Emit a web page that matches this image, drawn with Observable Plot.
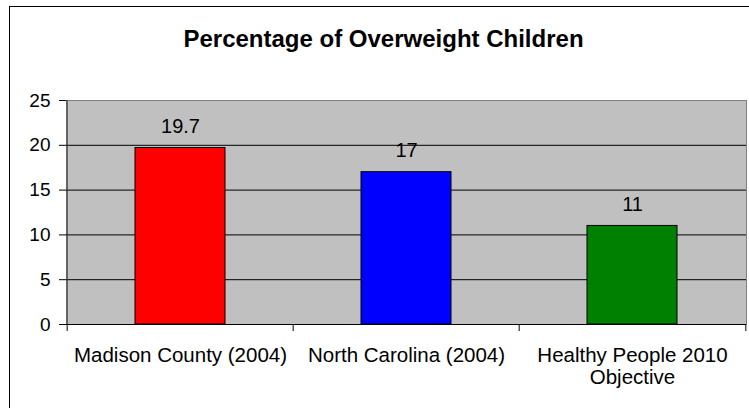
<!DOCTYPE html>
<html>
<head>
<meta charset="utf-8">
<script src="https://cdn.jsdelivr.net/npm/d3@7"></script>
<script src="https://cdn.jsdelivr.net/npm/@observablehq/plot@0.6"></script>
<style>
  body { margin: 0; background: #fff; }
  #chart { position: relative; width: 749px; height: 408px; overflow: hidden;
           font-family: "Liberation Sans", Arial, sans-serif; }
  #border { position: absolute; left: 9px; top: 6px; width: 800px; height: 450px;
            border: 1px solid #000; box-sizing: border-box; }
  #title { position: absolute; left: 0; top: 27px; width: 767px; text-align: center;
           font-weight: bold; font-size: 24px; line-height: 24px; color: #000; }
  #chart svg { position: absolute; left: 0; top: 0; }
</style>
</head>
<body>
<div id="chart">
  <div id="border"></div>
  <div id="title">Percentage of Overweight Children</div>
</div>
<script>
// Share of overweight children, by source
const categories = ["Madison County (2004)", "North Carolina (2004)", "Healthy People 2010 Objective"];
const axisLabels = ["Madison County (2004)", "North Carolina (2004)", "Healthy People 2010\nObjective"];
const values = [19.7, 17, 11];
const barColors = ["#ff0000", "#0000ff", "#008000"];
const yTicks = [0, 5, 10, 15, 20, 25];
const gridValues = [5, 10, 15, 20];

const width = 749, height = 408;
const margin = {top: 100, right: 3, bottom: 84, left: 66};
const step = (width - margin.left - margin.right) / categories.length;
const frameHeight = height - margin.top - margin.bottom;

const rows = categories.map((c, i) => ({category: c, value: values[i], color: barColors[i]}));
const labelOf = new Map(categories.map((c, i) => [c, axisLabels[i]]));

const chart = Plot.plot({
  width, height,
  marginTop: margin.top, marginRight: margin.right,
  marginBottom: margin.bottom, marginLeft: margin.left,
  style: {fontFamily: '"Liberation Sans", Arial, sans-serif', fontSize: "20px",
          color: "#000", background: "transparent", overflow: "visible"},
  x: {domain: categories, paddingInner: 0.6, paddingOuter: 0.3, label: null},
  y: {domain: [0, 25], label: null},
  color: {type: "identity"},
  marks: [
    // grey plot area with its border
    Plot.frame({fill: "#c0c0c0", stroke: "#808080"}),
    Plot.ruleY(gridValues, {stroke: "#000"}),
    Plot.barY(rows, {x: "category", y: "value", fill: "color", stroke: "#000"}),
    Plot.ruleY([0], {stroke: "#000"}),
    // tick marks at the category boundaries
    Plot.ruleX(categories, {x: d => d, dx: -step / 2, stroke: "#000",
                            insetTop: frameHeight, insetBottom: -7}),
    Plot.ruleX(categories.slice(-1), {x: d => d, dx: step / 2, stroke: "#000",
                                       insetTop: frameHeight, insetBottom: -7}),
    // value axis line
    Plot.ruleX(categories.slice(0, 1), {x: d => d, dx: -step / 2, stroke: "#333"}),
    Plot.axisY({ticks: yTicks, tickSize: 7, tickPadding: 9, fontSize: 19, label: null}),
    Plot.axisX({tickSize: 0, tickPadding: 22, tickFormat: d => labelOf.get(d),
                fontSize: 20.5, lineHeight: 1.08, label: null}),
    Plot.text(rows, {x: "category", y: "value", text: d => String(d.value),
                     lineAnchor: "bottom", dy: -15, fontSize: 20, fill: "#000"})
  ]
});

document.getElementById("chart").appendChild(chart);
</script>
</body>
</html>
